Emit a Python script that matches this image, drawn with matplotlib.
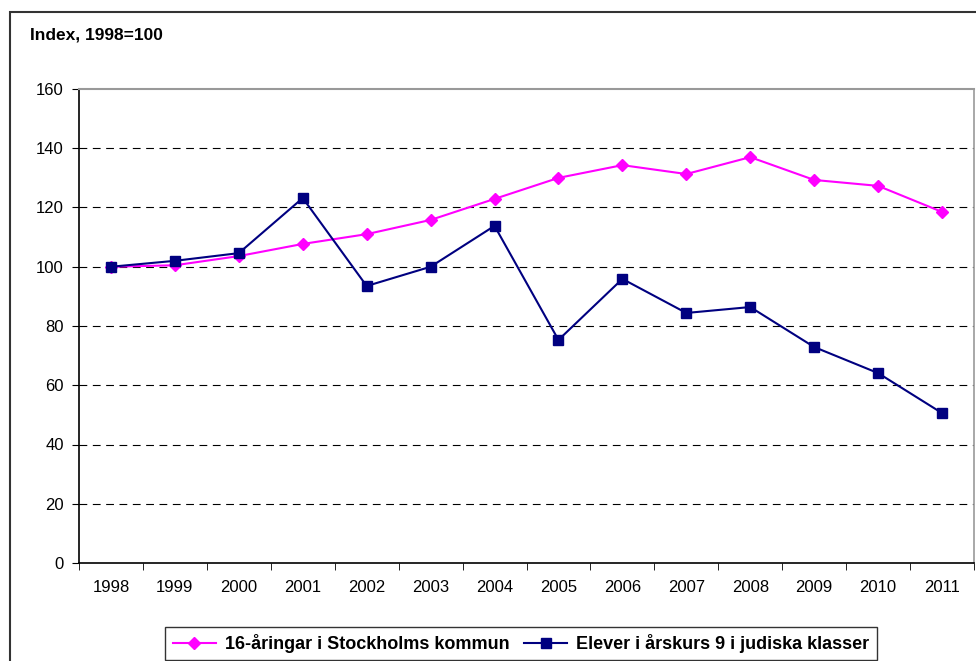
import matplotlib.pyplot as plt
from matplotlib.patches import Rectangle
from matplotlib.ticker import FixedLocator, NullFormatter

plt.rcParams['font.family'] = ['Liberation Sans', 'DejaVu Sans']

years = ['1998', '1999', '2000', '2001', '2002', '2003', '2004',
         '2005', '2006', '2007', '2008', '2009', '2010', '2011']
stockholm = [100, 100.5, 103.6, 107.7, 111, 115.8, 122.9,
             130, 134.3, 131.3, 137, 129.3, 127.3, 118.5]
judiska = [100, 102, 104.6, 123.2, 93.5, 100, 113.8,
           75.3, 95.9, 84.4, 86.4, 72.9, 64.1, 50.6]
yticks = [0, 20, 40, 60, 80, 100, 120, 140, 160]

fig = plt.figure(figsize=(9.76, 6.61), dpi=100)
ax = fig.add_axes([79/976, 98/661, 895/976, 474/661])

# outer chart border (clipped at right and bottom like the reference)
fig.patches.append(Rectangle((10/976, -0.1), 1.0, (661-12)/661 + 0.1,
                             transform=fig.transFigure, fill=False,
                             edgecolor='#333333', linewidth=1.5))

x = list(range(len(years)))
ax.plot(x, stockholm, color='#FF00FF', linewidth=1.5, marker='D',
        markersize=6.5, label='16-åringar i Stockholms kommun')
ax.plot(x, judiska, color='#000080', linewidth=1.5, marker='s',
        markersize=7.5, label='Elever i årskurs 9 i judiska klasser')

ax.set_xlim(-0.5, len(years) - 0.5)
ax.set_ylim(0, 160)
ax.set_yticks(yticks)
ax.set_yticklabels([str(v) for v in yticks], fontsize=12)
ax.set_xticks(x)
ax.set_xticklabels(years, fontsize=12)
ax.tick_params(axis='x', which='major', length=0, pad=12)
ax.xaxis.set_minor_locator(FixedLocator([i - 0.5 for i in range(len(years) + 1)]))
ax.xaxis.set_minor_formatter(NullFormatter())
ax.tick_params(axis='x', which='minor', length=5, color='black')
ax.tick_params(axis='y', length=5, pad=6)

for v in yticks[1:-1]:
    ax.axhline(v, color='black', linestyle=(0, (7, 5)), linewidth=0.8, zorder=0)

ax.spines['top'].set_color('#999999')
ax.spines['right'].set_color('#999999')
ax.spines['top'].set_linewidth(1.5)
ax.spines['right'].set_linewidth(1.2)
ax.spines['left'].set_linewidth(1.2)
ax.spines['bottom'].set_linewidth(1.2)

fig.text(30/976, 1 - 35/661, 'Index, 1998=100', fontsize=12.5, fontweight='bold',
         va='center', ha='left')

leg = fig.legend(loc='upper center', bbox_to_anchor=(521/976, 1 - 627/661),
                 ncol=2, frameon=True, fancybox=False, edgecolor='black',
                 prop={'weight': 'bold', 'size': 13}, handlelength=2.4,
                 columnspacing=0.8, handletextpad=0.5, borderpad=0.4,
                 borderaxespad=0)
leg.get_frame().set_linewidth(1.0)

fig.savefig('out.png', dpi=100)
